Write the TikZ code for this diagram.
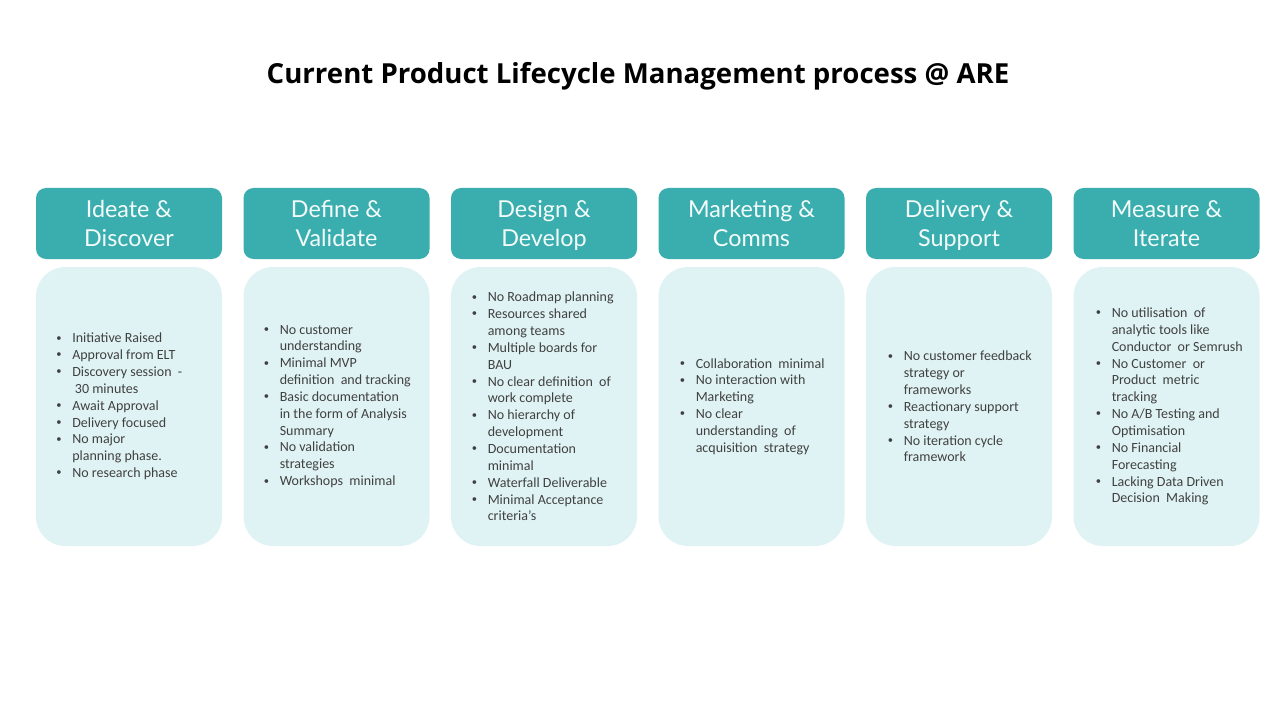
\documentclass[tikz,border=0pt]{standalone}
\usepackage{fontspec}
\usepackage{graphicx}
\setmainfont{Carlito}
\newfontfamily\headfont{Lato}
\newfontfamily\titlefont{Open Sans}
\definecolor{headc}{HTML}{3AAEAE}
\definecolor{bodyc}{HTML}{E0F3F4}
\definecolor{txtc}{HTML}{404040}
\definecolor{headtxt}{HTML}{F4FBFB}
\newcommand\bi{\makebox[12pt][l]{\raisebox{0.12em}{\scalebox{0.75}{\textbullet}}}}
\newcommand\ci{\hspace*{12pt}}
\newcommand\hl[2]{\strut\rule{0pt}{\dimexpr\ht\strutbox+4.5pt\relax}#1\\#2\strut}
\begin{document}
\begin{tikzpicture}[x=0.75pt,y=-0.75pt,
  head/.style={fill=headc, rounded corners=7.5pt, minimum width=139.5pt, minimum height=53.25pt, inner sep=0pt, align=center, text=headtxt, font=\headfont\fontsize{17.5}{21.75}\selectfont},
  bodybox/.style={fill=bodyc, rounded corners=22pt, minimum width=139.5pt, minimum height=209.25pt, inner sep=0pt},
  txt/.style={anchor=west, align=left, inner sep=0pt, text=txtc, font=\fontsize{10.5}{12.64}\selectfont}]
\useasboundingbox (0,0) rectangle (1280,720);
\fill[white] (0,0) rectangle (1280,720);
\node[font=\titlefont\bfseries\fontsize{20.7}{24}\selectfont, text=black] (title) at (638,76) {Current Product Lifecycle Management process @ ARE};

\node[head] (h1) at (129,223.5) {\hl{Ideate \&}{Discover}};
\node[head] (h2) at (336.5,223.5) {\hl{Define \&}{Validate}};
\node[head] (h3) at (544,223.5) {\hl{Design \&}{Develop}};
\node[head] (h4) at (751.5,223.5) {\hl{Marketing \&}{Comms}};
\node[head] (h5) at (959,223.5) {\hl{Delivery \&}{Support}};
\node[head] (h6) at (1166.5,223.5) {\hl{Measure \&}{Iterate}};

\node[bodybox] (b1) at (129,406.5) {};
\node[bodybox] (b2) at (336.5,406.5) {};
\node[bodybox] (b3) at (544,406.5) {};
\node[bodybox] (b4) at (751.5,406.5) {};
\node[bodybox] (b5) at (959,406.5) {};
\node[bodybox] (b6) at (1166.5,406.5) {};

\node[txt] (t1) at (56,406.5) {\bi Initiative Raised\\\bi Approval from ELT\\\bi Discovery session \ -\\\ci\hspace*{2pt}30 minutes\\\bi Await Approval\\\bi Delivery focused\\\bi No major\\\ci planning phase.\\\bi No research phase};
\node[txt] (t2) at (263.5,406.5) {\bi No customer\\\ci understanding\\\bi Minimal MVP\\\ci definition \ and tracking\\\bi Basic documentation\\\ci in the form of Analysis\\\ci Summary\\\bi No validation\\\ci strategies\\\bi Workshops \ minimal};
\node[txt] (t3) at (471.5,406.5) {\bi No Roadmap planning\\\bi Resources shared\\\ci among teams\\\bi Multiple boards for\\\ci BAU\\\bi No clear definition \ of\\\ci work complete\\\bi No hierarchy of\\\ci development\\\bi Documentation\\\ci minimal\\\bi Waterfall Deliverable\\\bi Minimal Acceptance\\\ci criteria's};
\node[txt] (t4) at (679.5,406.5) {\bi Collaboration \ minimal\\\bi No interaction with\\\ci Marketing\\\bi No clear\\\ci understanding \ of\\\ci acquisition \ strategy};
\node[txt] (t5) at (887.5,406.5) {\bi No customer feedback\\\ci strategy or\\\ci frameworks\\\bi Reactionary support\\\ci strategy\\\bi No iteration cycle\\\ci framework};
\node[txt] (t6) at (1095.5,406.5) {\bi No utilisation \ of\\\ci analytic tools like\\\ci Conductor \ or Semrush\\\bi No Customer \ or\\\ci Product \ metric\\\ci tracking\\\bi No A/B Testing and\\\ci Optimisation\\\bi No Financial\\\ci Forecasting\\\bi Lacking Data Driven\\\ci Decision \ Making};
\end{tikzpicture}
\end{document}
